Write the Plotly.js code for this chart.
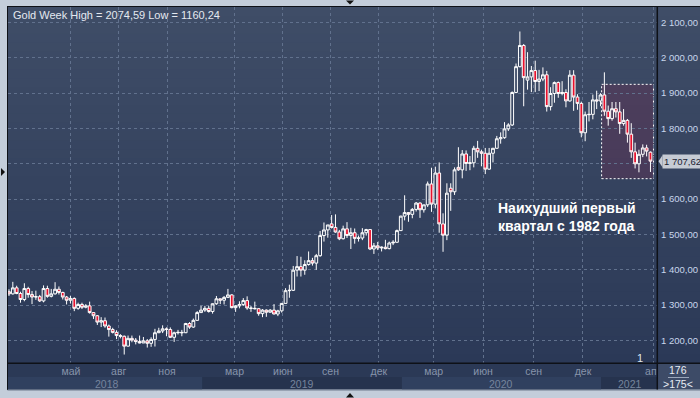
<!DOCTYPE html>
<html><head><meta charset="utf-8">
<script src="https://cdn.plot.ly/plotly-3.0.1.min.js"></script>
<style>html,body{margin:0;padding:0;background:#c3cdda;overflow:hidden}#chart{width:700px;height:398px}</style>
</head><body><div id="chart"></div>
<script>
// ---------------- DATA (weekly candles, XAU/USD) ----------------
const weeks2018 = ['2018-01-15','2018-01-22','2018-01-29','2018-02-05','2018-02-12','2018-02-19','2018-02-26','2018-03-05','2018-03-12','2018-03-19','2018-03-26','2018-04-02','2018-04-09','2018-04-16','2018-04-23','2018-04-30','2018-05-07','2018-05-14','2018-05-21','2018-05-28','2018-06-04','2018-06-11','2018-06-18','2018-06-25','2018-07-02','2018-07-09','2018-07-16','2018-07-23','2018-07-30','2018-08-06','2018-08-13','2018-08-20','2018-08-27','2018-09-03','2018-09-10','2018-09-17','2018-09-24','2018-10-01','2018-10-08','2018-10-15','2018-10-22','2018-10-29','2018-11-05','2018-11-12','2018-11-19','2018-11-26','2018-12-03','2018-12-10','2018-12-17','2018-12-24','2018-12-31'];
const weeks2019 = ['2019-01-07','2019-01-14','2019-01-21','2019-01-28','2019-02-04','2019-02-11','2019-02-18','2019-02-25','2019-03-04','2019-03-11','2019-03-18','2019-03-25','2019-04-01','2019-04-08','2019-04-15','2019-04-22','2019-04-29','2019-05-06','2019-05-13','2019-05-20','2019-05-27','2019-06-03','2019-06-10','2019-06-17','2019-06-24','2019-07-01','2019-07-08','2019-07-15','2019-07-22','2019-07-29','2019-08-05','2019-08-12','2019-08-19','2019-08-26','2019-09-02','2019-09-09','2019-09-16','2019-09-23','2019-09-30','2019-10-07','2019-10-14','2019-10-21','2019-10-28','2019-11-04','2019-11-11','2019-11-18','2019-11-25','2019-12-02','2019-12-09','2019-12-16','2019-12-23','2019-12-30'];
const weeks2020 = ['2020-01-06','2020-01-13','2020-01-20','2020-01-27','2020-02-03','2020-02-10','2020-02-17','2020-02-24','2020-03-02','2020-03-09','2020-03-16','2020-03-23','2020-03-30','2020-04-06','2020-04-13','2020-04-20','2020-04-27','2020-05-04','2020-05-11','2020-05-18','2020-05-25','2020-06-01','2020-06-08','2020-06-15','2020-06-22','2020-06-29','2020-07-06','2020-07-13','2020-07-20','2020-07-27','2020-08-03','2020-08-10','2020-08-17','2020-08-24','2020-08-31','2020-09-07','2020-09-14','2020-09-21','2020-09-28','2020-10-05','2020-10-12','2020-10-19','2020-10-26','2020-11-02','2020-11-09','2020-11-16','2020-11-23','2020-11-30','2020-12-07','2020-12-14','2020-12-21','2020-12-28'];
const weeks2021 = ['2021-01-04','2021-01-11','2021-01-18','2021-01-25','2021-02-01','2021-02-08','2021-02-15','2021-02-22','2021-03-01','2021-03-08','2021-03-15','2021-03-22','2021-03-29'];

const open2018 = [1338,1332,1349,1333,1316,1347,1330,1323,1324,1312,1347,1325,1332,1345,1336,1323,1314,1319,1291,1302,1294,1298,1279,1270,1252,1256,1241,1231,1223,1214,1212,1184,1206,1201,1197,1193,1199,1192,1203,1222,1227,1233,1231,1209,1222,1223,1222,1248,1238,1257,1279];
const high2018 = [1345,1366,1355,1338,1362,1352,1340,1341,1329,1356,1355,1346,1365,1353,1338,1326,1326,1322,1307,1307,1303,1310,1280,1272,1266,1265,1245,1236,1229,1218,1214,1214,1214,1207,1214,1210,1204,1209,1233,1236,1243,1237,1237,1225,1230,1230,1250,1252,1262,1283,1298];
const low2018 = [1326,1330,1331,1307,1311,1321,1303,1315,1309,1308,1321,1322,1330,1330,1316,1302,1305,1283,1287,1289,1291,1276,1261,1244,1238,1236,1211,1220,1204,1206,1160.24,1183,1195,1189,1192,1193,1180,1182,1183,1221,1221,1212,1207,1196,1217,1212,1221,1233,1236,1256,1279];
const close2018 = [1332,1349,1333,1316,1347,1330,1323,1324,1312,1347,1325,1332,1345,1336,1323,1314,1319,1291,1302,1294,1298,1279,1270,1252,1256,1241,1231,1223,1214,1212,1184,1206,1201,1197,1193,1199,1192,1203,1222,1227,1233,1231,1209,1222,1223,1222,1248,1238,1257,1279,1286];

const open2019 = [1286,1291,1282,1304,1318,1314,1322,1329,1293,1298,1302,1313,1292,1291,1290,1276,1286,1280,1286,1275,1284,1305,1341,1342,1399,1409,1399,1415,1426,1419,1440,1497,1513,1530,1520,1507,1488,1516,1497,1505,1489,1490,1505,1514,1459,1468,1462,1464,1460,1476,1478,1511];
const high2019 = [1298,1298,1305,1326,1319,1326,1346,1331,1300,1311,1320,1325,1298,1310,1292,1289,1288,1289,1303,1287,1306,1348,1358,1411,1439,1437,1427,1452,1434,1445,1510,1534,1527,1555,1557,1513,1525,1535,1519,1517,1497,1518,1516,1514,1476,1479,1466,1485,1480,1484,1514,1553];
const low2019 = [1281,1279,1276,1301,1303,1302,1320,1291,1281,1291,1298,1287,1281,1288,1270,1266,1267,1279,1274,1269,1279,1305,1321,1340,1381,1381,1386,1412,1412,1400,1437,1480,1491,1517,1505,1484,1486,1490,1459,1474,1480,1484,1497,1456,1445,1456,1452,1458,1458,1470,1477,1510];
const close2019 = [1291,1282,1304,1318,1314,1322,1329,1293,1298,1302,1313,1292,1291,1290,1276,1286,1280,1286,1275,1284,1305,1341,1342,1399,1409,1399,1415,1426,1419,1440,1497,1513,1527,1520,1507,1488,1516,1497,1505,1489,1490,1505,1514,1459,1468,1462,1464,1460,1476,1478,1511,1552];

const open2020 = [1552,1562,1557,1571,1589,1570,1584,1643,1586,1674,1530,1498,1631,1621,1690,1683,1728,1701,1703,1744,1734,1730,1685,1730,1744,1771,1774,1799,1810,1902,1975,2035,1937,1946,1964,1933,1940,1952,1862,1899,1930,1899,1902,1878,1951,1889,1871,1788,1839,1840,1881,1878];
const high2020 = [1611,1563,1575,1592,1591,1584,1650,1689,1692,1704,1560,1645,1645,1690,1747,1739,1738,1722,1751,1765,1740,1745,1745,1745,1779,1789,1818,1815,1905,1984,2074.59,2039,2016,1977,1992,1966,1973,1963,1917,1933,1933,1934,1911,1965,1965,1897,1876,1848,1875,1896,1907,1900];
const low2020 = [1540,1536,1546,1565,1547,1562,1578,1564,1574,1505,1451,1484,1567,1612,1680,1659,1680,1682,1690,1717,1693,1671,1683,1704,1743,1757,1771,1793,1807,1900,1973,1863,1910,1903,1903,1906,1934,1848,1851,1873,1887,1894,1860,1876,1850,1853,1775,1764,1820,1826,1855,1863];
const close2020 = [1562,1557,1571,1589,1570,1584,1643,1586,1674,1530,1498,1617,1621,1683,1683,1728,1701,1703,1744,1734,1730,1685,1730,1744,1771,1774,1799,1810,1902,1975,2035,1944,1946,1964,1933,1940,1952,1862,1899,1930,1899,1902,1878,1951,1889,1871,1788,1839,1840,1881,1878,1895];

const open2021 = [1895,1849,1828,1856,1847,1814,1823,1784,1734,1700,1727,1745,1733];
const high2021 = [1959,1865,1875,1875,1875,1855,1827,1815,1760,1740,1755,1754,1735];
const low2021 = [1836,1808,1822,1831,1785,1808,1760,1717,1687,1676,1719,1721,1677];
const close2021 = [1849,1828,1856,1847,1814,1823,1784,1734,1700,1727,1745,1736,1707.62];

const yTickVals = [1200,1300,1400,1500,1600,1700,1800,1900,2000,2100];
const monthTickDates = ['2018-05-08','2018-08-03','2018-10-30','2019-03-02','2019-05-29','2019-08-24','2019-11-20','2020-02-28','2020-05-28','2020-08-28','2020-11-26','2021-04-04'];
const monthTickText = ['май','авг','ноя','мар','июн','сен','дек','мар','июн','сен','дек','апр'];
const yearLabels = ['2018','2019','2020','2021'];
const yearLabelDates = ['2018-07-12','2019-07-03','2020-06-30','2021-02-19'];
const yearBandStart = ['2017-12-01','2019-01-02','2020-01-01','2020-12-29'];
const yearBandEnd = ['2019-01-02','2020-01-01','2020-12-29','2021-06-01'];
const quarterBox = {x0:'2020-12-30', x1:'2021-04-03 12:00', y0:1658, y1:1925};
const noteText = 'Наихудший первый<br>квартал с 1982 года';

// ---------------- assemble ----------------
const dates = weeks2018.concat(weeks2019, weeks2020, weeks2021);
const opens = open2018.concat(open2019, open2020, open2021);
const highs = high2018.concat(high2019, high2020, high2021);
const lows = low2018.concat(low2019, low2020, low2021);
const closes = close2018.concat(close2019, close2020, close2021);

function fmt(v){
  const s = v.toFixed(2).split('.');
  const i = s[0].replace(/\B(?=(\d{3})+(?!\d))/g, ' ');
  return i + ',' + s[1];
}
const hiAll = Math.max.apply(null, highs), loAll = Math.min.apply(null, lows);
const lastClose = closes[closes.length-1];

const W=700,H=398,ML=8,MR=43,MT=7,MB=35;
const PW=W-ML-MR, PH=H-MT-MB, BOT=H-MB;
const px = x => (x-ML)/PW;
const py = y => (BOT-y)/PH;

const shapes = [];
// background gradient (plot + right axis)
const gTop = [63,77,103], gBot = [43,57,87];
const NB = 40;
for (let i=0;i<NB;i++){
  const t=(i+0.5)/NB;
  const c = gBot.map((b,k)=>Math.round(b+(gTop[k]-b)*t));
  shapes.push({type:'rect',xref:'paper',yref:'paper',x0:px(ML),x1:px(700),y0:i/NB,y1:(i+1)/NB+0.002,
    fillcolor:'rgb('+c.join(',')+')',line:{width:0},layer:'below'});
}
// bottom time panel
shapes.push({type:'rect',xref:'paper',yref:'paper',x0:px(8),x1:px(657.5),y0:py(377),y1:py(363),fillcolor:'#2b3956',line:{width:0},layer:'below'});
shapes.push({type:'rect',xref:'paper',yref:'paper',x0:px(8),x1:px(657.5),y0:py(389.5),y1:py(377),fillcolor:'#26334e',line:{width:0},layer:'below'});
[0,2].forEach(i=>shapes.push({type:'rect',xref:'x',yref:'paper',x0:yearBandStart[i],x1:yearBandEnd[i],y0:py(389.5),y1:py(377),fillcolor:'#30405f',line:{width:0},layer:'below'}));
// quarter highlight
shapes.push({type:'rect',xref:'x',yref:'y',x0:quarterBox.x0,x1:quarterBox.x1,y0:quarterBox.y0,y1:quarterBox.y1,
  fillcolor:'rgba(112,45,80,0.34)',line:{color:'#ffffff',width:1,dash:'2px,2px'},layer:'below'});
// corner box
shapes.push({type:'rect',xref:'paper',yref:'paper',x0:px(657.5),x1:px(700),y0:py(389.5),y1:py(363.5),fillcolor:'#3d4b67',line:{width:0},layer:'above'});
shapes.push({type:'line',xref:'paper',yref:'paper',x0:px(668),x1:px(689),y0:py(377.5),y1:py(377.5),line:{color:'#9aa6ba',width:1},layer:'above'});
// frame lines
const dark = '#0e1117';
shapes.push({type:'line',xref:'paper',yref:'paper',x0:px(7),x1:px(700),y0:py(6.5),y1:py(6.5),line:{color:dark,width:1},layer:'above'});
shapes.push({type:'line',xref:'paper',yref:'paper',x0:px(7.5),x1:px(7.5),y0:py(6.5),y1:py(390),line:{color:dark,width:1},layer:'above'});
shapes.push({type:'line',xref:'paper',yref:'paper',x0:px(7.5),x1:px(700),y0:py(363.2),y1:py(363.2),line:{color:dark,width:1.5},layer:'above'});
shapes.push({type:'line',xref:'paper',yref:'paper',x0:px(657.3),x1:px(657.3),y0:py(6.5),y1:py(390),line:{color:dark,width:1.5},layer:'above'});
shapes.push({type:'line',xref:'paper',yref:'paper',x0:px(7.5),x1:px(700),y0:py(390),y1:py(390),line:{color:'#6f7a8c',width:1},layer:'above'});
// UI triangles
function tri(pts){return 'M'+pts.map(p=>px(p[0])+','+py(p[1])).join(' L')+' Z';}
shapes.push({type:'path',xref:'paper',yref:'paper',path:tri([[346,0.5],[354,0.5],[350,4.5]]),fillcolor:'#111',line:{width:0},layer:'above'});
shapes.push({type:'path',xref:'paper',yref:'paper',path:tri([[346,397.5],[354,397.5],[350,393]]),fillcolor:'#111',line:{width:0},layer:'above'});
shapes.push({type:'path',xref:'paper',yref:'paper',path:tri([[1,168],[1,176],[5,172]]),fillcolor:'#111',line:{width:0},layer:'above'});
// price tag arrow
shapes.push({type:'path',xref:'paper',yref:'y',xsizemode:'pixel',ysizemode:'pixel',xanchor:px(657.5),yanchor:lastClose,
  path:'M1,0 L5,6 L5,-6 Z',fillcolor:'#c6cbd4',line:{width:0},layer:'above'});

const annotations = [
  {xref:'paper',yref:'paper',x:px(11),y:py(15),xanchor:'left',yanchor:'middle',showarrow:false,
   text:'Gold Week High = '+fmt(hiAll).replace(' ','')+' Low = '+fmt(loAll).replace(' ',''),
   font:{family:'Liberation Sans Narrow, Liberation Sans, Arial',size:11,color:'#e4e9f0'}},
  {xref:'paper',yref:'paper',x:px(496),y:py(217),xanchor:'left',yanchor:'middle',align:'left',showarrow:false,
   text:'<b>'+noteText+'</b>',font:{family:'Liberation Sans, Arial',size:14,color:'#ffffff'}},
  {xref:'paper',yref:'paper',x:px(640),y:py(358),xanchor:'center',yanchor:'middle',showarrow:false,
   text:'1',font:{family:'Liberation Sans, Arial',size:11,color:'#dfe6ef'}},
  {xref:'paper',yref:'y',x:px(661.5),y:lastClose,xanchor:'left',yanchor:'middle',showarrow:false,
   text:fmt(lastClose),bgcolor:'#c6cbd4',borderpad:1,width:37,align:'left',font:{family:'Liberation Sans, Arial',size:9.5,color:'#1a2232'}},
  {xref:'paper',yref:'paper',x:px(678.5),y:py(370),xanchor:'center',yanchor:'middle',showarrow:false,
   text:String(closes.length+8),font:{family:'Liberation Sans, Arial',size:10.5,color:'#e8edf4'}},
  {xref:'paper',yref:'paper',x:px(678.5),y:py(383.5),xanchor:'center',yanchor:'middle',showarrow:false,
   text:'&gt;'+(closes.length+7)+'&lt;',font:{family:'Liberation Sans, Arial',size:10.5,color:'#e8edf4'}}
];
yearLabels.forEach((t,i)=>annotations.push({xref:'x',yref:'paper',x:yearLabelDates[i],y:py(383.5),xanchor:'center',yanchor:'middle',showarrow:false,
  text:t,font:{family:'Liberation Sans, Arial',size:10.5,color:'#76849d'}}));

// the last-price tag covers the nearby axis label, as in the reference
const yTickText = yTickVals.map(v => Math.abs(v-lastClose) < 20 ? '' : fmt(v));

const trace = {
  type:'candlestick', x:dates, open:opens, high:highs, low:lows, close:closes,
  increasing:{line:{color:'#ffffff',width:1},fillcolor:'rgba(0,0,0,0)'},
  decreasing:{line:{color:'#ffffff',width:1},fillcolor:'#e8112d'},
  whiskerwidth:0, hoverinfo:'skip', showlegend:false
};

const grid = '#61718d';
const layout = {
  width:W,height:H,margin:{l:ML,r:MR,t:MT,b:MB,pad:0},
  paper_bgcolor:'#c3cdda',plot_bgcolor:'rgba(0,0,0,0)',
  font:{family:'Liberation Sans, Arial, sans-serif',size:10,color:'#c9d6ec'},
  showlegend:false,hovermode:false,dragmode:false,
  boxgap:0.15, boxgroupgap:0.15,
  xaxis:{type:'date',range:['2018-01-13 05:00','2021-04-09 22:00'],rangeslider:{visible:false},
    tickmode:'array',tickvals:monthTickDates,ticktext:monthTickText,ticks:'',
    showgrid:true,gridcolor:grid,griddash:'3px,3px',gridwidth:1,zeroline:false,showline:false,
    tickfont:{family:'Liberation Sans, Arial',size:10.5,color:'#8794ab'},fixedrange:true},
  yaxis:{side:'right',range:[1136.3,2143.9],tickmode:'array',tickvals:yTickVals,ticktext:yTickText,
    ticks:'',showgrid:true,gridcolor:grid,griddash:'3px,3px',gridwidth:1,zeroline:false,showline:false,
    tickfont:{family:'Liberation Sans, Arial',size:9.5,color:'#c9d6ec'},ticklabelstandoff:3,fixedrange:true},
  shapes:shapes, annotations:annotations
};
Plotly.newPlot('chart',[trace],layout,{staticPlot:true,displayModeBar:false});
</script></body></html>
